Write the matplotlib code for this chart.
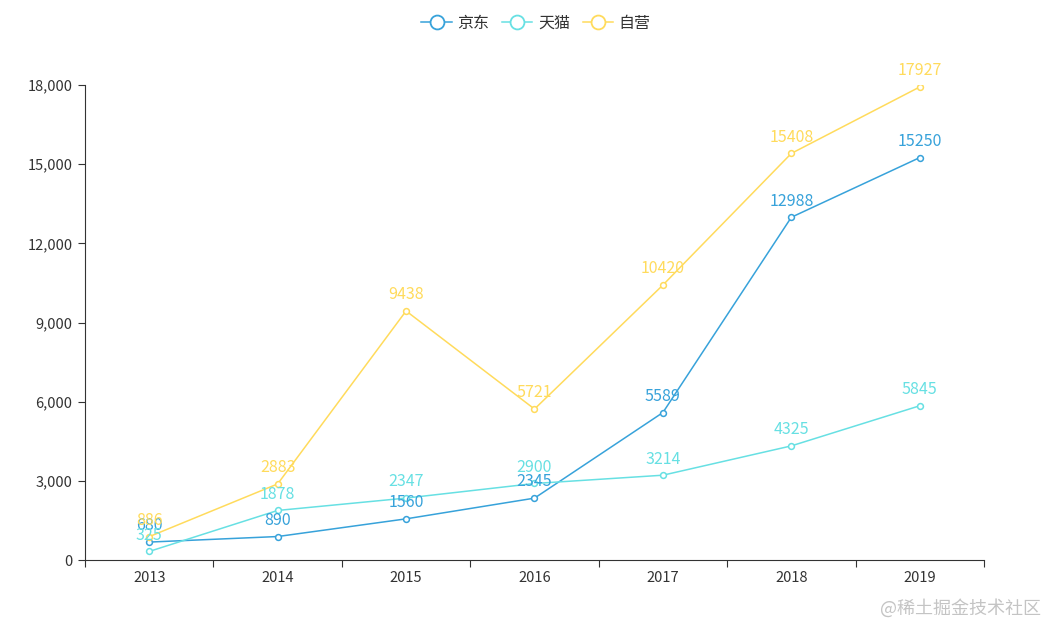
"""
Line chart: yearly sales for JD, Tmall and self-operated channels
"""

import matplotlib
matplotlib.use('Agg')
import matplotlib.pyplot as plt
from matplotlib.lines import Line2D
from matplotlib.ticker import FuncFormatter

plt.rcParams['font.family'] = ['Noto Sans CJK SC', 'DejaVu Sans']

# data
years   = ['2013', '2014', '2015', '2016', '2017', '2018', '2019']
jd      = [680, 890, 1560, 2345, 5589, 12988, 15250]
tmall   = [325, 1878, 2347, 2900, 3214, 4325, 5845]
self_op = [886, 2883, 9438, 5721, 10420, 15408, 17927]

names   = ['京东', '天猫', '自营']
colors  = ['#37A2DA', '#67E0E3', '#FFDB5C']
series  = [jd, tmall, self_op]

fig = plt.figure(figsize=(10.47, 6.26), dpi=100)
ax = fig.add_axes([0.0812, 0.1054, 0.8586, 0.7588])

x = list(range(len(years)))
for vals, c in zip(series, colors):
    ax.plot(x, vals, color=c, lw=1.1, marker='o', markersize=4.2,
            markerfacecolor='white', markeredgecolor=c, markeredgewidth=1.1,
            zorder=3)
    for xi, v in zip(x, vals):
        ax.annotate(str(v), (xi, v), xytext=(0, 5.5), textcoords='offset points',
                    ha='center', va='bottom', fontsize=11.5, color=c, zorder=4)

# axes styling (echarts look)
ax.set_xlim(-0.5, len(years) - 0.5)
ax.set_ylim(0, 18000)
ax.set_yticks(range(0, 18001, 3000))
ax.yaxis.set_major_formatter(FuncFormatter(lambda v, p: f'{int(v):,}'))
ax.set_xticks(x)
ax.set_xticklabels(years)
ax.set_xticks([i - 0.5 for i in range(len(years) + 1)], minor=True)
ax.tick_params(axis='x', which='major', length=0, labelsize=10.5, colors='#333333', pad=8)
ax.tick_params(axis='x', which='minor', length=5, color='#333333', width=0.8)
ax.tick_params(axis='y', length=5, color='#333333', width=0.8, labelsize=10.5,
               labelcolor='#333333', pad=4)
for s in ['top', 'right']:
    ax.spines[s].set_visible(False)
for s in ['left', 'bottom']:
    ax.spines[s].set_color('#333333')
    ax.spines[s].set_linewidth(0.8)

# legend
handles = [Line2D([0], [0], color=c, lw=1.1, marker='o', markersize=10,
                  markerfacecolor='white', markeredgecolor=c, markeredgewidth=1.3)
           for c in colors]
fig.legend(handles, names, loc='center', bbox_to_anchor=(0.512, 0.963), ncol=3,
           frameon=False, fontsize=11.5, handlelength=1.9, handletextpad=0.35,
           columnspacing=0.8, labelcolor='#333333')

# watermark
fig.text(0.994, 0.028, '@稀土掘金技术社区', ha='right', va='center',
         fontsize=13, color='#c4c4c4')

fig.savefig('out.png', dpi=100)
